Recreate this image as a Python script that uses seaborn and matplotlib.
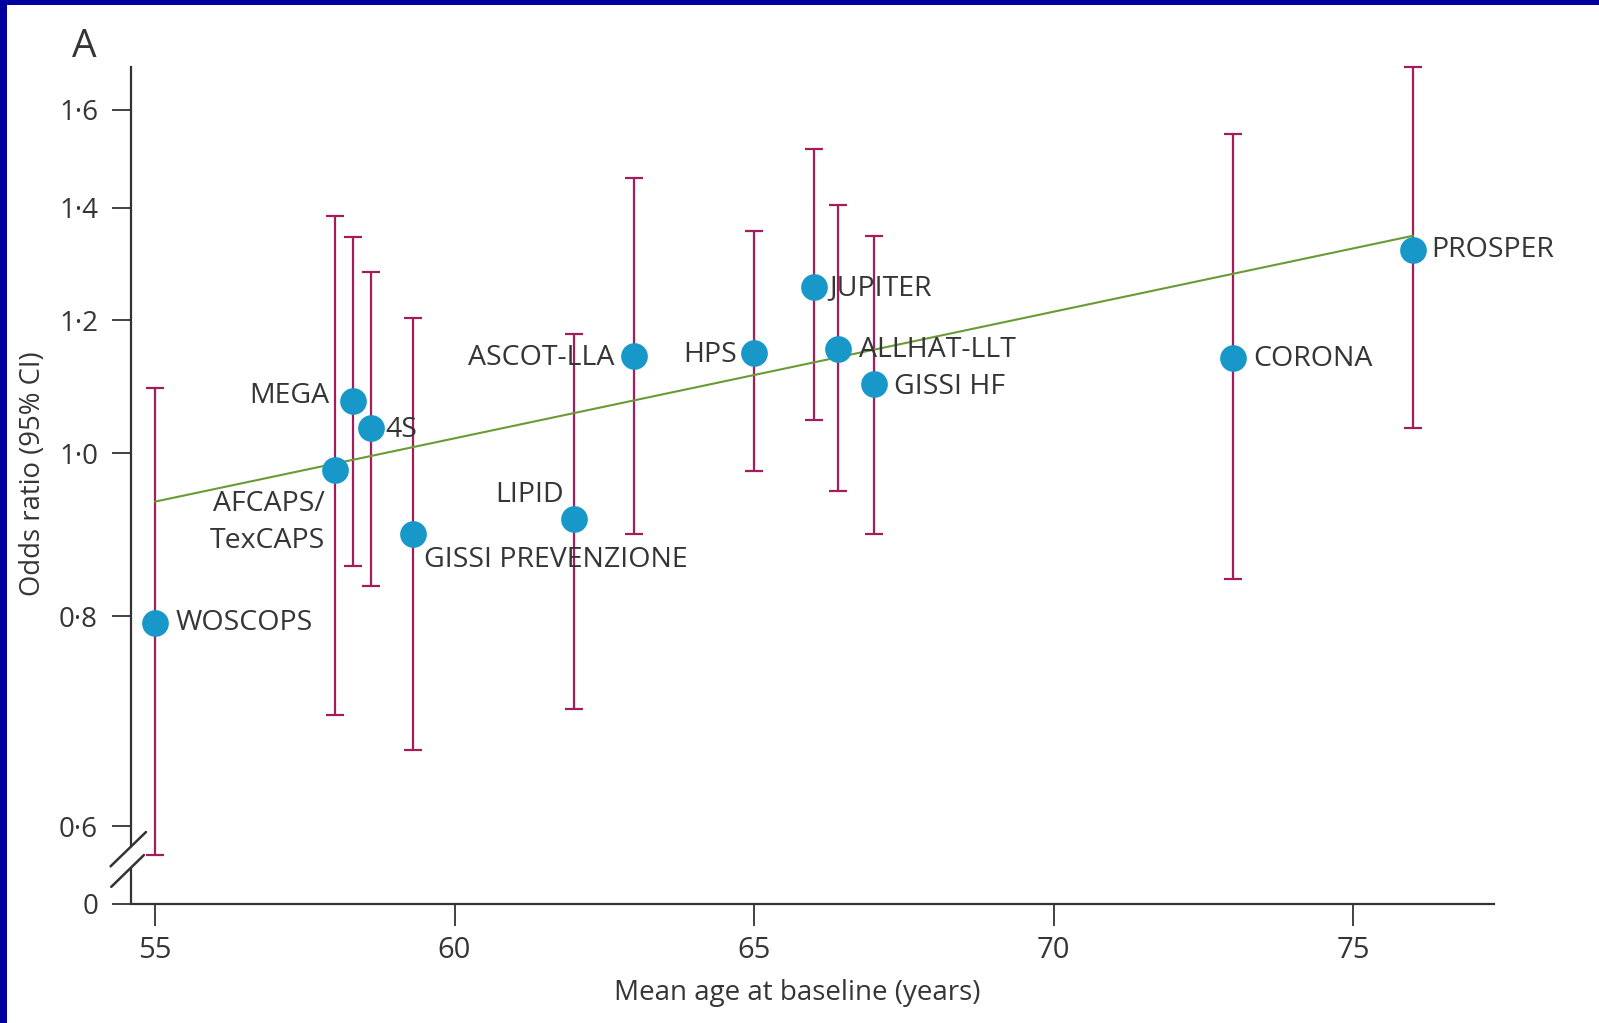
import matplotlib
matplotlib.use("Agg")
import matplotlib.pyplot as plt
from matplotlib.patches import Rectangle
from matplotlib.ticker import FixedLocator, FixedFormatter, NullLocator
import seaborn as sns
import pandas as pd
import numpy as np

# Statin trials: mean age at baseline vs odds ratio (95% CI)
trials = ["WOSCOPS", "AFCAPS/\nTexCAPS", "MEGA", "4S", "GISSI PREVENZIONE", "LIPID",
          "ASCOT-LLA", "HPS", "JUPITER", "ALLHAT-LLT", "GISSI HF", "CORONA", "PROSPER"]
mean_age = [55.0, 58.0, 58.3, 58.6, 59.3, 62.0, 63.0, 65.0, 66.0, 66.4, 67.0, 73.0, 76.0]
odds_ratio = [0.793, 0.977, 1.074, 1.035, 0.896, 0.914, 1.143, 1.147, 1.255, 1.154, 1.099, 1.139, 1.321]
ci_low = [0.577, 0.699, 0.857, 0.834, 0.666, 0.705, 0.896, 0.976, 1.046, 0.950, 0.896, 0.842, 1.035]
ci_high = [1.094, 1.384, 1.345, 1.281, 1.203, 1.177, 1.457, 1.355, 1.517, 1.405, 1.347, 1.549, 1.697]

# Meta-regression line (end points)
fit_age = [55.0, 76.0]
fit_or = [0.936, 1.347]

# Label offsets (points) and alignment for each trial name
label_dx = [14.7, -7.2, -17, 10.3, 8, -7.3, -14, -12.5, 11, 15.4, 14.7, 14, 13.2]
label_dy = [0, -37.5, 3.7, -1.5, -19, 17.6, -1.5, -1.5, -0.7, -0.7, -2.2, -0.7, 0]
label_ha = ["left", "right", "right", "left", "left", "right", "right", "right",
            "left", "left", "left", "left", "left"]

y_ticks = [0.5396, 0.6, 0.8, 1.0, 1.2, 1.4, 1.6]
y_ticklabels = ["0", "0·6", "0·8", "1·0", "1·2", "1·4", "1·6"]
x_ticks = [55, 60, 65, 70, 75]

df = pd.DataFrame({"trial": trials, "age": mean_age, "or": odds_ratio,
                   "lo": ci_low, "hi": ci_high})
fit_df = pd.DataFrame({"age": fit_age, "or": fit_or})

sns.set_theme(style="ticks")
plt.rcParams["font.family"] = ["Open Sans", "DejaVu Sans"]

TEXT = "#353535"
AXIS = "#333333"
POINT = "#1898c8"
BAR = "#a31d5a"
LINE = "#6a9a35"
BORDER = "#0000a0"

fig = plt.figure(figsize=(15.99, 10.23), dpi=100)
fig.patch.set_facecolor(BORDER)
fig.add_artist(Rectangle((7 / 1599, 0), 1, 1 - 5 / 1023, transform=fig.transFigure,
                         facecolor="white", edgecolor="none", zorder=-10))

ax = fig.add_axes([131 / 1599, 119 / 1023, 1363 / 1599, 837 / 1023])
ax.patch.set_visible(False)
ax.set_yscale("log")

# Confidence intervals
yerr = np.array([df["or"] - df["lo"], df["hi"] - df["or"]])
ax.errorbar(df["age"], df["or"], yerr=yerr, fmt="none", ecolor=BAR, elinewidth=1.6,
            capsize=6.5, capthick=1.6, zorder=2, clip_on=False)

# Regression line
sns.lineplot(data=fit_df, x="age", y="or", ax=ax, color=LINE, linewidth=1.5, zorder=3)

# Point estimates
sns.scatterplot(data=df, x="age", y="or", ax=ax, s=370, color=POINT, linewidth=0,
                zorder=4, clip_on=False)

for name, x, y, dx, dy, ha in zip(df["trial"], df["age"], df["or"], label_dx, label_dy, label_ha):
    ax.annotate(name, (x, y), xytext=(dx, dy), textcoords="offset points",
                ha=ha, va="center", ma="right" if ha == "right" else "left",
                fontsize=20.5, color=TEXT, linespacing=1.45, zorder=5)

ax.set_xlim(54.6, 77.35)
ax.set_ylim(0.5396, 1.697)

ax.yaxis.set_major_locator(FixedLocator(y_ticks))
ax.yaxis.set_major_formatter(FixedFormatter(y_ticklabels))
ax.yaxis.set_minor_locator(NullLocator())
ax.set_xticks(x_ticks)
ax.set_xticklabels([str(v) for v in x_ticks])

ax.tick_params(axis="y", length=13.7, width=1.3, color=AXIS, labelcolor=TEXT,
               labelsize=20, pad=10)
ax.tick_params(axis="x", length=16, width=1.3, color=AXIS, labelcolor=TEXT,
               labelsize=21, pad=7)

sns.despine(ax=ax)
for side in ("left", "bottom"):
    ax.spines[side].set_linewidth(1.6)
    ax.spines[side].set_color(AXIS)
ax.spines["left"].set_bounds(0.584, 1.697)

# Broken axis: short lower spine segment and the two break strokes
ax.plot([0, 0], [0, 0.0442], transform=ax.transAxes, color=AXIS, linewidth=1.6,
        clip_on=False, solid_capstyle="butt")
ax.plot([-0.0150, 0.0110], [0.0450, 0.0860], transform=ax.transAxes, color=AXIS,
        linewidth=1.8, clip_on=False)
ax.plot([-0.0145, 0.0095], [0.0205, 0.0585], transform=ax.transAxes, color=AXIS,
        linewidth=1.8, clip_on=False)

ax.set_xlabel("Mean age at baseline (years)", fontsize=20, color=TEXT)
ax.xaxis.set_label_coords(0.489, -0.090)
ax.set_ylabel("Odds ratio (95% CI)", fontsize=19.8, color=TEXT)
ax.yaxis.set_label_coords(-0.0616, 0.514)

fig.text(84 / 1599, 1 - 47 / 1023, "A", fontsize=28, color=TEXT, ha="center", va="center")

fig.savefig("out.png", dpi=100, facecolor=fig.get_facecolor())
